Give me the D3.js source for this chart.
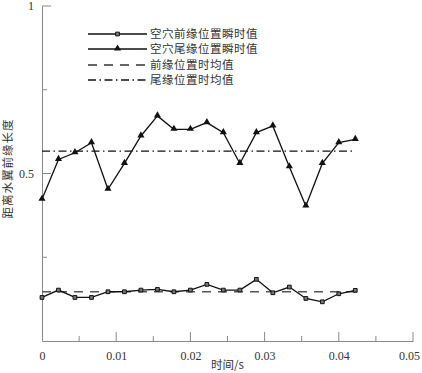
<!DOCTYPE html>
<html>
<head>
<meta charset="utf-8">
<script src="https://cdn.jsdelivr.net/npm/d3@7"></script>
<style>
  body { margin: 0; background: #fff; }
  svg { display: block; }
  .tick text { font-family: "Liberation Serif", "Times New Roman", serif; font-size: 12px; fill: #333; }
  .cjk { font-family: "Noto Sans CJK SC", sans-serif; font-size: 11.5px; fill: #333; }
</style>
</head>
<body>
<svg id="chart" width="422" height="373"></svg>
<script>
// time steps (s), 1/450 s apart
const times = [0, 0.00222, 0.00444, 0.00667, 0.00889, 0.01111, 0.01333, 0.01556, 0.01778, 0.02,
  0.02222, 0.02444, 0.02667, 0.02889, 0.03111, 0.03333, 0.03556, 0.03778, 0.04, 0.04222];
const leadValues = [0.130, 0.152, 0.130, 0.130, 0.147, 0.147, 0.152, 0.154, 0.147, 0.152,
  0.169, 0.152, 0.152, 0.184, 0.144, 0.161, 0.127, 0.117, 0.141, 0.151];
const tailValues = [0.423, 0.542, 0.562, 0.592, 0.453, 0.530, 0.612, 0.672, 0.632, 0.632,
  0.652, 0.622, 0.530, 0.622, 0.642, 0.520, 0.403, 0.530, 0.592, 0.602];
const leadMean = 0.147;
const tailMean = 0.567;
const xTicks = [0, 0.01, 0.02, 0.03, 0.04, 0.05];
const yTicks = [0.5, 1];
const legendLabels = ['空穴前缘位置瞬时值', '空穴尾缘位置瞬时值', '前缘位置时均值', '尾缘位置时均值'];

const svg = d3.select('#chart');
const margin = { left: 42, right: 9, top: 6, bottom: 32 };
const W = 422, H = 373;

const x = d3.scaleLinear().domain([0, 0.05]).range([margin.left, W - margin.right]);
const y = d3.scaleLinear().domain([0, 1]).range([H - margin.bottom, margin.top]);

const axisColor = '#888';

// x axis, ticks pointing inward
const xAxis = svg.append('g')
  .attr('transform', 'translate(0,' + y(0) + ')')
  .call(d3.axisBottom(x).tickValues(xTicks).tickSize(0).tickPadding(8)
    .tickFormat(d => d === 0 ? '0' : d3.format('.2f')(d)));
xAxis.select('.domain').attr('stroke', axisColor);
xAxis.selectAll('.tick text').attr('dy', '0.9em');
// last label sits a little left of its tick, as in the original
xAxis.selectAll('.tick text').filter(d => d === 0.05).attr('dx', -4);

const xMinor = d3.range(0.005, 0.0501, 0.005);
svg.append('g').selectAll('line')
  .data(xMinor)
  .enter()
  .append('line')
  .attr('x1', d => x(d))
  .attr('x2', d => x(d))
  .attr('y1', y(0))
  .attr('y2', (d, i) => y(0) - (i % 2 === 1 ? 9 : 5))
  .attr('stroke', axisColor);

// y axis
const yAxis = svg.append('g')
  .attr('transform', 'translate(' + x(0) + ',0)')
  .call(d3.axisLeft(y).tickValues(yTicks).tickSize(0).tickPadding(8)
    .tickFormat(d => d === 1 ? '1' : '0.5'));
yAxis.select('.domain').attr('stroke', axisColor);

svg.append('g').selectAll('line')
  .data([0.25, 0.5, 0.75, 1])
  .enter()
  .append('line')
  .attr('x1', x(0))
  .attr('x2', (d, i) => x(0) + (i % 2 === 1 ? 9 : 5))
  .attr('y1', d => y(d))
  .attr('y2', d => y(d))
  .attr('stroke', axisColor);

// axis titles
svg.append('text')
  .attr('class', 'cjk')
  .attr('x', (x(0) + x(0.05)) / 2)
  .attr('y', 369)
  .attr('text-anchor', 'middle')
  .text('时间/s');

svg.append('text')
  .attr('class', 'cjk')
  .attr('transform', 'translate(8,' + y(0.515) + ') rotate(-90)')
  .attr('text-anchor', 'middle')
  .attr('dy', '0.35em')
  .attr('letter-spacing', '1px')
  .text('距离水翼前缘长度');

// mean lines
const tEnd = times[times.length - 1];
svg.append('line')
  .attr('x1', x(0)).attr('x2', x(tEnd))
  .attr('y1', y(leadMean)).attr('y2', y(leadMean))
  .attr('stroke', '#555').attr('stroke-width', 1.5)
  .attr('stroke-dasharray', '9,7');

svg.append('line')
  .attr('x1', x(0)).attr('x2', x(tEnd))
  .attr('y1', y(tailMean)).attr('y2', y(tailMean))
  .attr('stroke', '#111').attr('stroke-width', 1.2)
  .attr('stroke-dasharray', '8,3.5,1.5,3.5');

const line = d3.line().x(d => x(d[0])).y(d => y(d[1]));
const leadPts = times.map((t, i) => [t, leadValues[i]]);
const tailPts = times.map((t, i) => [t, tailValues[i]]);

svg.append('path').datum(leadPts)
  .attr('d', line).attr('fill', 'none').attr('stroke', '#111').attr('stroke-width', 1.3);
svg.append('path').datum(tailPts)
  .attr('d', line).attr('fill', 'none').attr('stroke', '#111').attr('stroke-width', 1.3);

const tri = d3.symbol().type(d3.symbolTriangle).size(22);
const sq = d3.symbol().type(d3.symbolSquare).size(14);

svg.append('g').selectAll('path')
  .data(leadPts)
  .enter()
  .append('path')
  .attr('d', sq)
  .attr('transform', d => 'translate(' + x(d[0]) + ',' + y(d[1]) + ')')
  .attr('fill', '#777').attr('stroke', '#111').attr('stroke-width', 1);

svg.append('g').selectAll('path')
  .data(tailPts)
  .enter()
  .append('path')
  .attr('d', tri)
  .attr('transform', d => 'translate(' + x(d[0]) + ',' + (y(d[1]) - 0.5) + ')')
  .attr('fill', '#111');

// legend
const legend = svg.append('g');
const rowY = [34, 49, 65, 80];
const lx1 = 88, lx2 = 147;
legendLabels.forEach((label, i) => {
  const g = legend.append('g');
  const ln = g.append('line')
    .attr('x1', lx1).attr('x2', lx2)
    .attr('y1', rowY[i]).attr('y2', rowY[i])
    .attr('stroke', '#111').attr('stroke-width', 1.3);
  if (i === 2) ln.attr('stroke-dasharray', '9,7').attr('stroke', '#333');
  if (i === 3) ln.attr('stroke-dasharray', '8,3.5,1.5,3.5');
  if (i === 0) {
    g.append('path').attr('d', sq)
      .attr('transform', 'translate(' + (lx1 + lx2) / 2 + ',' + rowY[i] + ')')
      .attr('fill', '#777').attr('stroke', '#111');
  }
  if (i === 1) {
    g.append('path').attr('d', tri)
      .attr('transform', 'translate(' + (lx1 + lx2) / 2 + ',' + (rowY[i] - 0.5) + ')')
      .attr('fill', '#111');
  }
  g.append('text')
    .attr('class', 'cjk')
    .attr('x', lx2 + 3)
    .attr('y', rowY[i])
    .attr('dy', '0.35em')
    .attr('letter-spacing', '0.5px')
    .text(label);
});
</script>
</body>
</html>
